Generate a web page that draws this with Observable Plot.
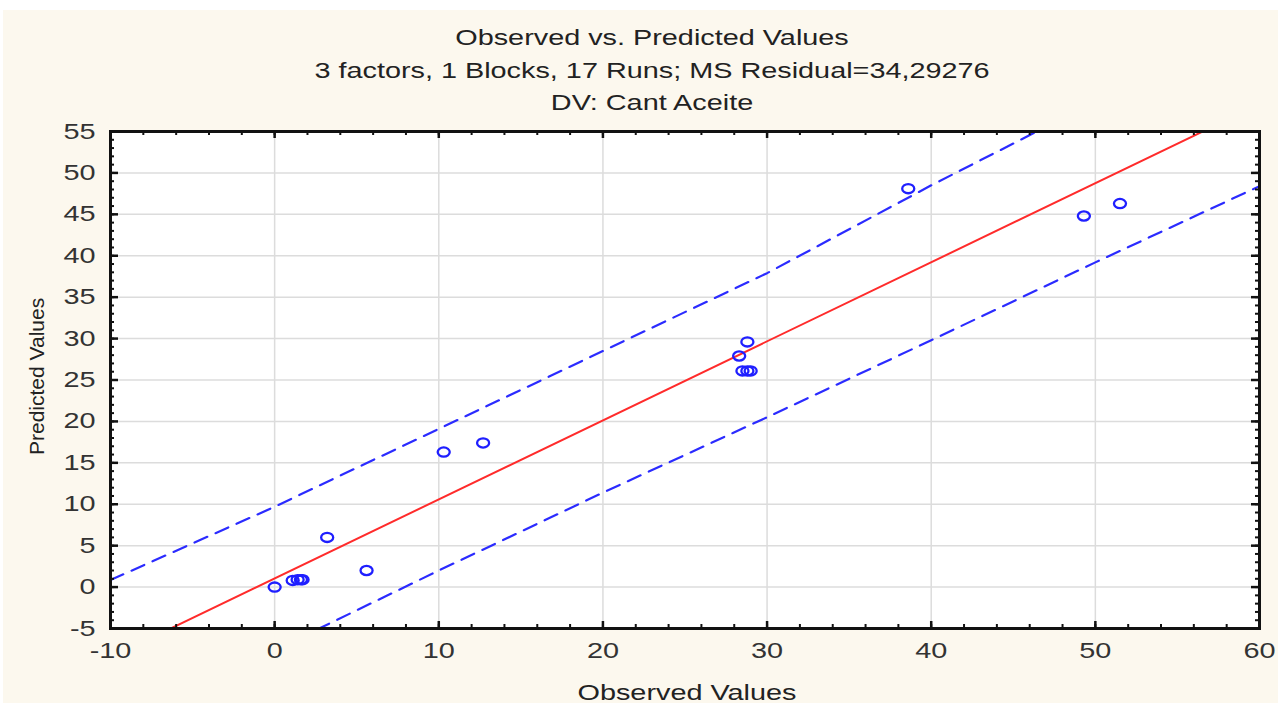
<!DOCTYPE html>
<html>
<head>
<meta charset="utf-8">
<script src="https://cdn.jsdelivr.net/npm/d3@7"></script>
<script src="https://cdn.jsdelivr.net/npm/@observablehq/plot@0.6"></script>
<style>
  html, body { margin: 0; padding: 0; background: #ffffff; }
  #wrap { position: absolute; left: 3px; top: 10px; width: 1275px; height: 693px; background: #fcf8ee; }
</style>
</head>
<body>
<div id="wrap"></div>
<script>
// ---- text ----
const titleLines = [
  "Observed vs. Predicted Values",
  "3 factors, 1 Blocks, 17 Runs; MS Residual=34,29276",
  "DV: Cant Aceite"
];
const xTitle = "Observed Values";
const yTitle = "Predicted Values";

// ---- observed / predicted points ----
const observed  = [0, 1.1, 1.4, 1.6, 1.7, 3.2, 5.6, 10.3, 12.7, 28.3, 28.8, 28.5, 28.8, 29.0, 38.6, 49.3, 51.5];
const predicted = [0, 0.8, 0.9, 0.9, 0.9, 6.0, 2.0, 16.3, 17.4, 27.9, 29.6, 26.1, 26.1, 26.1, 48.1, 44.8, 46.3];

// ---- fitted line (read at the x-domain ends) ----
const fitX = [-10, 60];
const fitY = [-8.5, 58.3];

// ---- 95% bands ----
const bandX     = [-10, 0, 10, 20, 30, 40, 50, 60];
const bandUpper = [0.85, 9.7, 19.1, 28.5, 37.9, 48.5, 58.6, 68.6];
const bandLower = [-17.5, -7.6, 2.0, 11.4, 20.5, 29.8, 39.2, 48.4];

// ---- ticks ----
const xMajor = [-10, 0, 10, 20, 30, 40, 50, 60];
const yMajor = [-5, 0, 5, 10, 15, 20, 25, 30, 35, 40, 45, 50, 55];
const xMinor = d3.range(-10, 61, 2);
const yMinor = d3.range(-5, 56, 1);

// ---- tables ----
const points = observed.map((o, i) => ({x: o, y: predicted[i]}));
const fitRows = fitX.map((x, i) => ({x, y: fitY[i]}));
const bandRows = bandX.map((x, i) => ({x, up: bandUpper[i], lo: bandLower[i]}));

// ---- layout ----
const W = 1275, H = 693;
const mL = 107, mR = 19, mT = 121, mB = 75;
const plotW = W - mL - mR, plotH = H - mT - mB;
const STRETCH = 1.31;

// ellipse symbol (wider than tall, like the reference)
const ellipseSymbol = {
  draw(ctx, size) {
    const r = Math.sqrt(size / Math.PI);
    const rx = r * STRETCH, ry = r, k = 0.5523;
    ctx.moveTo(rx, 0);
    ctx.bezierCurveTo(rx, ry * k, rx * k, ry, 0, ry);
    ctx.bezierCurveTo(-rx * k, ry, -rx, ry * k, -rx, 0);
    ctx.bezierCurveTo(-rx, -ry * k, -rx * k, -ry, 0, -ry);
    ctx.bezierCurveTo(rx * k, -ry, rx, -ry * k, rx, 0);
    ctx.closePath();
  }
};

const tickColor = "#111";
const chart = Plot.plot({
  width: W, height: H,
  marginLeft: mL, marginRight: mR, marginTop: mT, marginBottom: mB,
  style: {background: "transparent", fontFamily: "'Liberation Sans', Arial, sans-serif", fontSize: "22px", color: "#333"},
  x: {domain: [-10, 60], label: null},
  y: {domain: [-5, 55], label: null},
  marks: [
    Plot.frame({fill: "white", stroke: null}),
    Plot.gridX(xMajor, {stroke: "#dcdcdc", strokeOpacity: 1, strokeWidth: 1.5}),
    Plot.gridY(yMajor, {stroke: "#dcdcdc", strokeOpacity: 1, strokeWidth: 1.5}),
    Plot.line(bandRows, {x: "x", y: "up", stroke: "#2b2bff", strokeWidth: 2.2, strokeDasharray: "14,9", clip: true}),
    Plot.line(bandRows, {x: "x", y: "lo", stroke: "#2b2bff", strokeWidth: 2.2, strokeDasharray: "14,9", clip: true}),
    Plot.line(fitRows, {x: "x", y: "y", stroke: "#ff2b2b", strokeWidth: 2, clip: true}),
    Plot.dot(points, {x: "x", y: "y", r: 4.6, symbol: ellipseSymbol, stroke: "#1f1fff", strokeWidth: 2.3, fill: "none"}),
    // inward ticks: bottom / top
    Plot.tickX(xMinor, {x: d => d, stroke: tickColor, strokeWidth: 2, insetTop: plotH - 4}),
    Plot.tickX(xMinor, {x: d => d, stroke: tickColor, strokeWidth: 2, insetBottom: plotH - 4}),
    Plot.tickX(xMajor, {x: d => d, stroke: tickColor, strokeWidth: 2.5, insetTop: plotH - 7}),
    Plot.tickX(xMajor, {x: d => d, stroke: tickColor, strokeWidth: 2.5, insetBottom: plotH - 7}),
    // inward ticks: left / right
    Plot.tickY(yMinor, {y: d => d, stroke: tickColor, strokeWidth: 2, insetRight: plotW - 4}),
    Plot.tickY(yMinor, {y: d => d, stroke: tickColor, strokeWidth: 2, insetLeft: plotW - 4}),
    Plot.tickY(yMajor, {y: d => d, stroke: tickColor, strokeWidth: 2.5, insetRight: plotW - 8}),
    Plot.tickY(yMajor, {y: d => d, stroke: tickColor, strokeWidth: 2.5, insetLeft: plotW - 8}),
    Plot.frame({stroke: "#111", strokeWidth: 3}),
    Plot.axisX(xMajor, {tickSize: 0, tickPadding: 14, fontSize: 22, fill: "#333", tickFormat: d => String(d), label: null}),
    Plot.axisY(yMajor, {tickSize: 0, tickPadding: 15, fontSize: 22, fill: "#333", tickFormat: d => String(d), label: null}),
    Plot.text([titleLines[0]], {text: d => d, frameAnchor: "top", dx: -33, dy: -102, fontSize: 22, fill: "#222"}),
    Plot.text([titleLines[1]], {text: d => d, frameAnchor: "top", dx: -33, dy: -69, fontSize: 22, fill: "#222"}),
    Plot.text([titleLines[2]], {text: d => d, frameAnchor: "top", dx: -33, dy: -37, fontSize: 22, fill: "#222"}),
    Plot.text([xTitle], {text: d => d, frameAnchor: "bottom", dx: 2, dy: 71, fontSize: 22, fill: "#222"}),
    Plot.text([yTitle], {text: d => d, frameAnchor: "left", rotate: -90, dx: -73, dy: 75, fontSize: 21, fill: "#222"})
  ]
});
document.getElementById("wrap").append(chart);

// the reference is horizontally stretched: widen the text glyphs to match
chart.querySelectorAll("text").forEach(t => {
  if (t.textContent === yTitle) return;
  const len = t.getComputedTextLength();
  if (len > 0) {
    t.setAttribute("textLength", (len * STRETCH).toFixed(1));
    t.setAttribute("lengthAdjust", "spacingAndGlyphs");
  }
});
</script>
</body>
</html>
